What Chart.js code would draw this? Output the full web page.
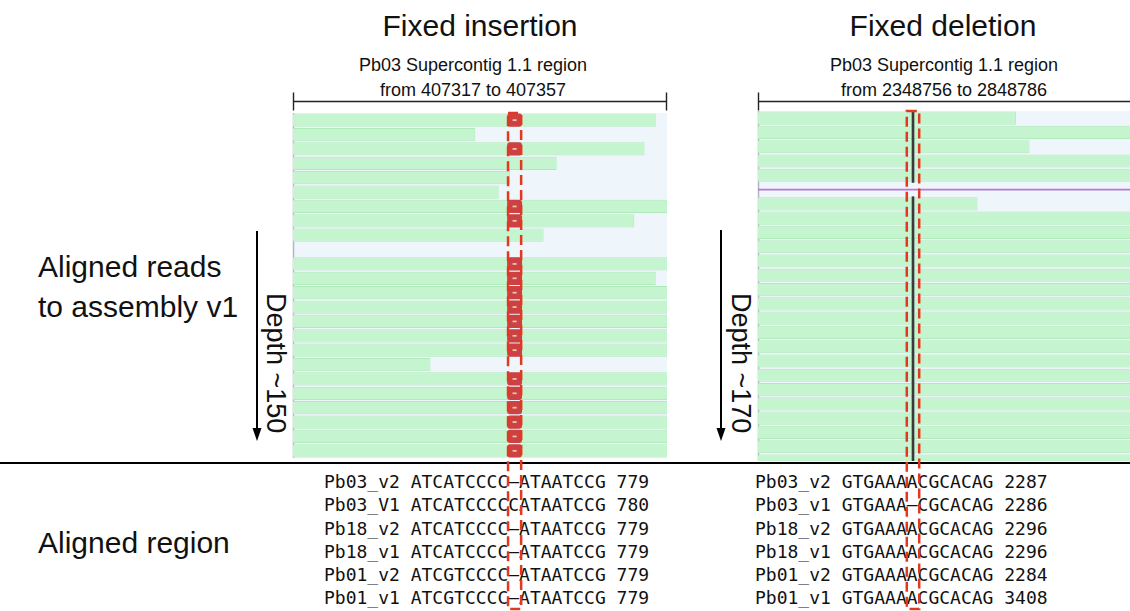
<!DOCTYPE html>
<html>
<head>
<meta charset="utf-8">
<script src="https://cdn.jsdelivr.net/npm/chart.js@4.4.1/dist/chart.umd.min.js"></script>
<style>
  body { margin: 0; background: #fff; overflow: hidden; }
  #page { position: relative; width: 1130px; height: 611px; }
  .lbl { position: absolute; font-family: 'Liberation Sans', Arial, sans-serif; line-height: 1; color: #111; white-space: nowrap; }
  .title { font-size: 30px; width: 400px; text-align: center; }
  .sub { font-size: 18px; width: 400px; text-align: center; }
  .side { font-size: 30px; }
  .depth { font-size: 27px; line-height: 27px; transform: rotate(90deg); transform-origin: 0 0; }
  .seq { position: absolute; margin: 0; font-family: 'DejaVu Sans Mono', monospace; font-size: 18px; line-height: 23.3px; color: #111; white-space: pre; }
  .rule { position: absolute; left: 0; top: 462px; width: 1130px; height: 2px; background: #000; }
  canvas { position: absolute; left: 0; top: 0; }
</style>
</head>
<body>
<div id="page">
  <div class="lbl title" style="left:280px;top:11px">Fixed insertion</div>
  <div class="lbl sub" style="left:273px;top:56px">Pb03 Supercontig 1.1 region</div>
  <div class="lbl sub" style="left:273px;top:81px">from 407317 to 407357</div>

  <div class="lbl title" style="left:743px;top:11px">Fixed deletion</div>
  <div class="lbl sub" style="left:744px;top:56px">Pb03 Supercontig 1.1 region</div>
  <div class="lbl sub" style="left:744px;top:81px">from 2348756 to 2848786</div>

  <div class="lbl side" style="left:38px;top:252px">Aligned reads</div>
  <div class="lbl side" style="left:38px;top:292px">to assembly v1</div>
  <div class="lbl side" style="left:38px;top:528px">Aligned region</div>

  <div class="lbl depth" style="left:289px;top:293px">Depth ~150</div>
  <div class="lbl depth" style="left:754px;top:293px">Depth ~170</div>

  <div class="rule"></div>
  <pre id="insText" class="seq" style="left:324px;top:470px"></pre>
  <pre id="delText" class="seq" style="left:755px;top:470px"></pre>

  <canvas id="insChart" width="1130" height="611"></canvas>
  <canvas id="delChart" width="1130" height="611"></canvas>
</div>
<script>
// ---- data ----
// insertion panel: one read per row, all reads start left of the window
const insRange = [407317, 407357];
const insReadStart = 407300;
const insReadEnds = [407355.8, 407336.5, 407354.6, 407345.2, 407340.2, 407339.0, 407362, 407353.5,
                     407343.8, null, 407362, 407355.8, 407362, 407362, 407362, 407362,
                     407362, 407331.7, 407362, 407362, 407362, 407362, 407362, 407362];
const insHasInsertion = [1, 0, 1, 0, 0, 0, 1, 1, 0, 0, 1, 1, 1, 1, 1, 1, 1, 0, 1, 1, 1, 1, 1, 1];
const insertionPos = 407340.7;

// deletion panel
const delRange = [2348756, 2348786];
const delReadStart = 2348740;
const delReadEnds = [2348776.8, 2348790, 2348777.9, 2348790, 2348790, null, 2348773.7, 2348790,
                     2348790, 2348790, 2348790, 2348790, 2348790, 2348790, 2348790, 2348790,
                     2348790, 2348790, 2348790, 2348790, 2348790, 2348790, 2348790, 2348790, 2348790];
const delSpanRows = [5];
const deletionPos = 2348768.5;

// aligned region text
const insNames = ['Pb03_v2', 'Pb03_V1', 'Pb18_v2', 'Pb18_v1', 'Pb01_v2', 'Pb01_v1'];
const insSeqs = ['ATCATCCCC–ATAATCCG', 'ATCATCCCCCATAATCCG', 'ATCATCCCC–ATAATCCG',
                 'ATCATCCCC–ATAATCCG', 'ATCGTCCCC–ATAATCCG', 'ATCGTCCCC–ATAATCCG'];
const insLengths = [779, 780, 779, 779, 779, 779];
const delNames = ['Pb03_v2', 'Pb03_v1', 'Pb18_v2', 'Pb18_v1', 'Pb01_v2', 'Pb01_v1'];
const delSeqs = ['GTGAAAACGCACAG', 'GTGAAA–CGCACAG', 'GTGAAAACGCACAG',
                 'GTGAAAACGCACAG', 'GTGAAAACGCACAG', 'GTGAAAACGCACAG'];
const delLengths = [2287, 2286, 2296, 2296, 2284, 3408];

document.getElementById('insText').textContent =
  insNames.map((n, i) => n + ' ' + insSeqs[i] + ' ' + insLengths[i]).join('\n');
document.getElementById('delText').textContent =
  delNames.map((n, i) => n + ' ' + delSeqs[i] + ' ' + delLengths[i]).join('\n');

// ---- helpers ----
function rowBars(rows, from, to) {
  const out = [];
  rows.forEach((v, i) => { if (v !== null && v !== 0) out.push({ x: [from(v), to(v)], y: i }); });
  return out;
}

const readStyle = {
  backgroundColor: '#c5f5cf', borderColor: '#b0eabb', borderWidth: 1, borderSkipped: false,
  grouped: false, categoryPercentage: 1, barPercentage: 0.92, clip: 0, order: 5
};

// draws panel background, bracket, depth arrow and the dashed red box
const panelDecor = {
  id: 'panelDecor',
  beforeDraw(chart, args, opts) {
    const { ctx, chartArea: a } = chart;
    ctx.save();
    ctx.fillStyle = '#eef5fb';
    ctx.fillRect(a.left, a.top, a.right - a.left, a.bottom - a.top);
    ctx.strokeStyle = '#b8b4c6';
    ctx.lineWidth = 1.5;
    ctx.beginPath();
    ctx.moveTo(a.left + 0.5, a.top);
    ctx.lineTo(a.left + 0.5, a.bottom);
    ctx.stroke();
    ctx.restore();
  },
  afterDraw(chart, args, opts) {
    const { ctx, chartArea: a } = chart;
    const x = chart.scales.x;
    ctx.save();
    // bracket above the panel
    ctx.strokeStyle = '#222';
    ctx.lineWidth = 1.4;
    ctx.beginPath();
    ctx.moveTo(a.left, opts.bracketY);
    ctx.lineTo(a.right, opts.bracketY);
    ctx.moveTo(a.left + 0.5, opts.bracketY - 9);
    ctx.lineTo(a.left + 0.5, opts.bracketY + 9);
    if (opts.rightTick) {
      ctx.moveTo(a.right - 0.5, opts.bracketY - 9);
      ctx.lineTo(a.right - 0.5, opts.bracketY + 9);
    }
    ctx.stroke();

    // depth arrow
    ctx.strokeStyle = '#000';
    ctx.fillStyle = '#000';
    ctx.lineWidth = 2;
    ctx.beginPath();
    ctx.moveTo(opts.arrowX, opts.arrowTop);
    ctx.lineTo(opts.arrowX, opts.arrowTip - 10);
    ctx.stroke();
    ctx.beginPath();
    ctx.moveTo(opts.arrowX - 4.5, opts.arrowTip - 13);
    ctx.lineTo(opts.arrowX + 4.5, opts.arrowTip - 13);
    ctx.lineTo(opts.arrowX, opts.arrowTip);
    ctx.closePath();
    ctx.fill();

    // dashed red box around the indel, down through the aligned region
    const x0 = x.getPixelForValue(opts.boxFrom);
    const x1 = x.getPixelForValue(opts.boxTo);
    ctx.strokeStyle = '#e2381f';
    ctx.lineWidth = 2.5;
    ctx.setLineDash([10, 5]);
    ctx.strokeRect(x0, a.top, x1 - x0, opts.boxBottom - a.top);
    ctx.restore();
  }
};

function baseOptions(range, rowMax, padding, decor) {
  return {
    indexAxis: 'y',
    responsive: false,
    animation: false,
    events: [],
    layout: { padding: padding },
    scales: {
      x: { type: 'linear', min: range[0], max: range[1], display: false },
      y: {
        type: 'linear', min: -0.5, max: rowMax, reverse: true, display: false,
        offset: false, grid: { offset: false }, ticks: { stepSize: 1000 }
      }
    },
    plugins: {
      legend: { display: false },
      tooltip: { enabled: false },
      panelDecor: decor
    }
  };
}

// ---- insertion chart ----
new Chart(document.getElementById('insChart').getContext('2d'), {
  type: 'bar',
  data: {
    datasets: [
      Object.assign({ label: 'reads', data: rowBars(insReadEnds, () => insReadStart, e => e) }, readStyle),
      {
        label: 'insertion',
        data: rowBars(insHasInsertion, () => insertionPos - 0.8, () => insertionPos + 0.8),
        backgroundColor: '#cd4044', borderWidth: 0, borderRadius: 3, borderSkipped: false,
        grouped: false, categoryPercentage: 1, barPercentage: 0.92, clip: 0, order: 2
      },
      {
        label: 'insertion tick',
        data: rowBars(insHasInsertion, () => insertionPos - 0.22, () => insertionPos + 0.22),
        backgroundColor: '#ecc9a6', borderWidth: 0,
        grouped: false, categoryPercentage: 1, barPercentage: 0.12, clip: 0, order: 1
      }
    ]
  },
  options: baseOptions(insRange, 23.5, { left: 293, right: 463, top: 113, bottom: 153 }, {
    bracketY: 101.5, rightTick: true, arrowX: 257, arrowTop: 231, arrowTip: 441,
    boxFrom: insertionPos - 0.7, boxTo: insertionPos + 0.7, boxBottom: 609
  }),
  plugins: [panelDecor]
});

// ---- deletion chart ----
new Chart(document.getElementById('delChart').getContext('2d'), {
  type: 'bar',
  data: {
    datasets: [
      Object.assign({ label: 'reads', data: rowBars(delReadEnds, () => delReadStart, e => e) }, readStyle),
      {
        label: 'spanning',
        data: delSpanRows.map(r => ({ x: [delRange[0] - 5, delRange[1] + 5], y: r })),
        backgroundColor: '#b57ad8', borderWidth: 0,
        grouped: false, categoryPercentage: 1, barPercentage: 0.12, clip: 0, order: 3
      },
      {
        label: 'center',
        data: rowBars(delReadEnds, () => deletionPos - 0.08, () => deletionPos + 0.08),
        backgroundColor: '#3a3a3a', borderWidth: 0,
        grouped: false, categoryPercentage: 1, barPercentage: 1, clip: 0, order: 2
      }
    ]
  },
  options: baseOptions(delRange, 24.0, { left: 758, right: 0, top: 111, bottom: 150 }, {
    bracketY: 101.5, rightTick: false, arrowX: 721, arrowTop: 230, arrowTip: 441,
    boxFrom: deletionPos - 0.5, boxTo: deletionPos + 0.5, boxBottom: 609
  }),
  plugins: [panelDecor]
});
</script>
</body>
</html>
